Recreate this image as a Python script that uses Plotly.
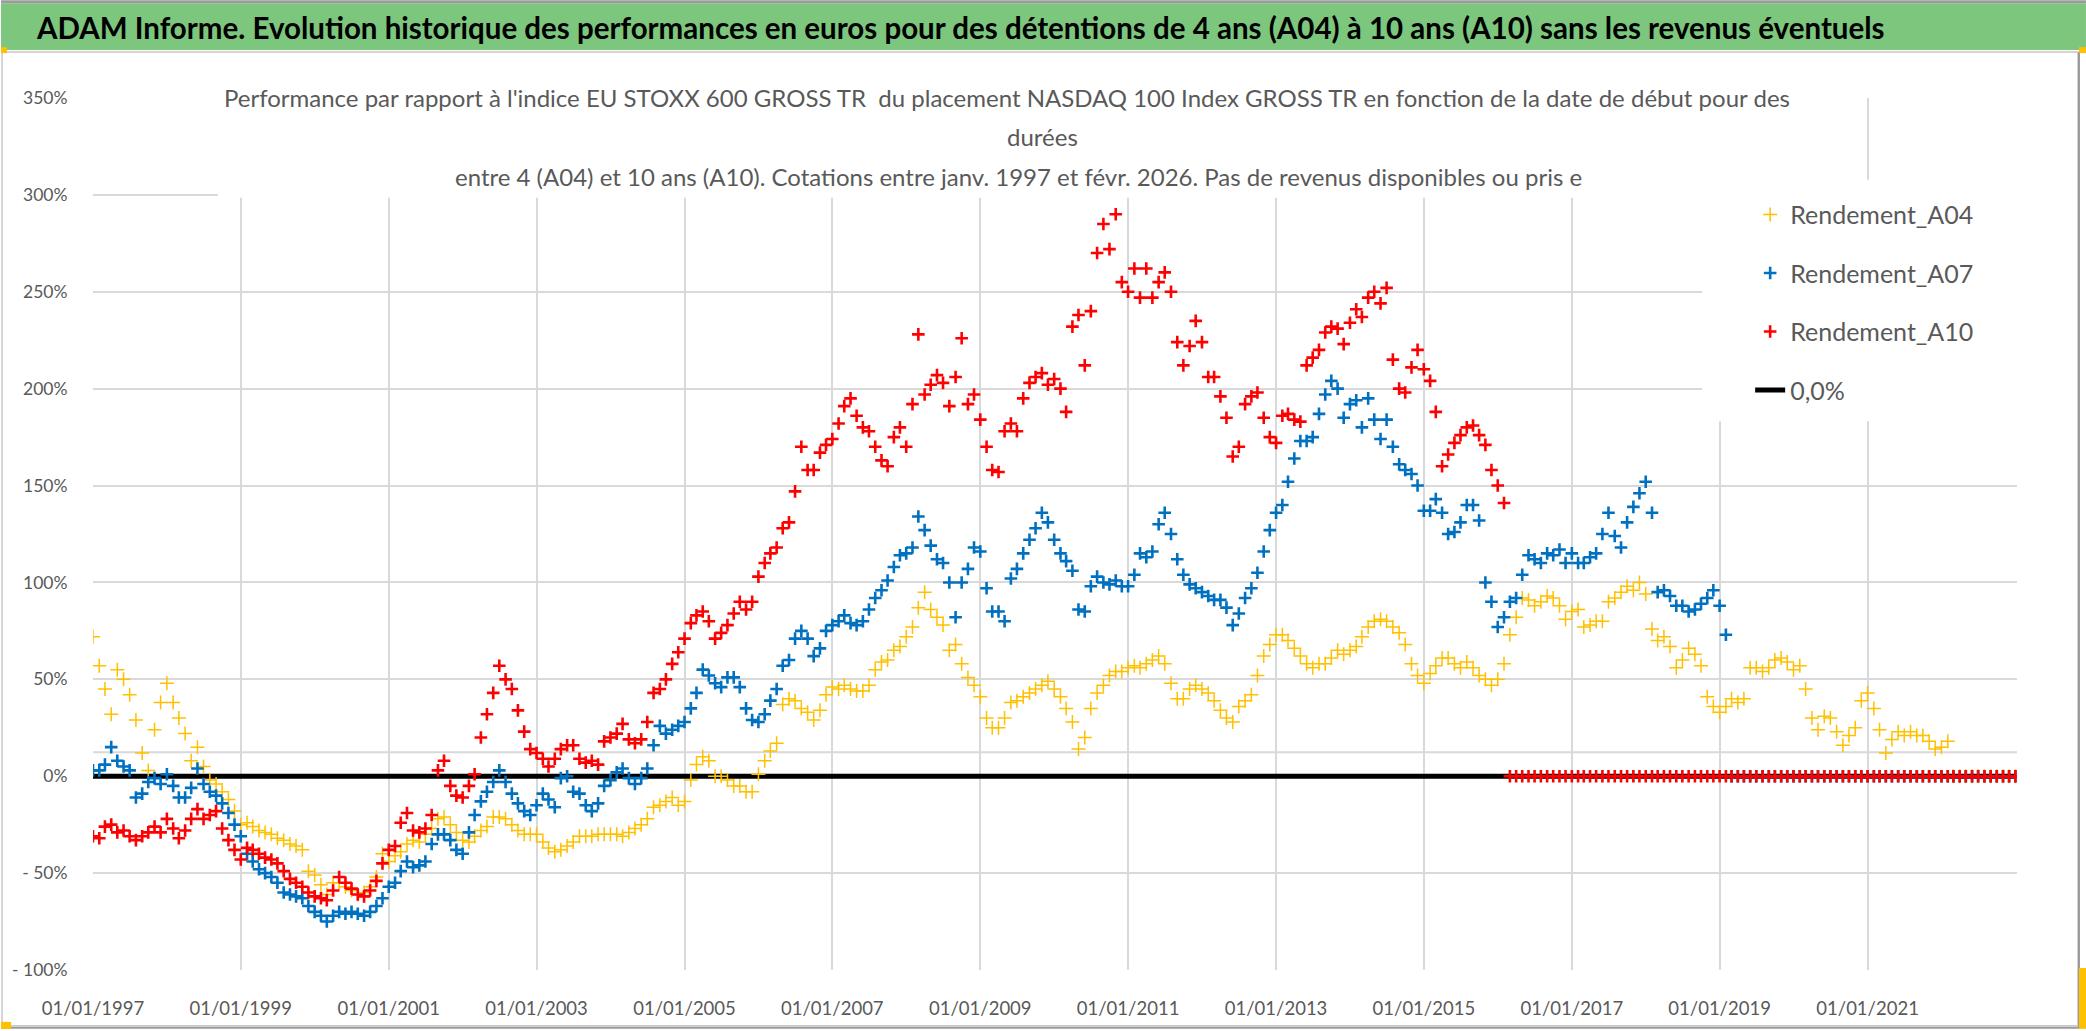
import pandas as pd
import plotly.graph_objects as go

# ---------------- data (monthly readings of the start-date series) ----------------
DATES = pd.date_range("1997-01-01", "2023-01-01", freq="MS")

A04 = [
    72, 57, 45, 32, 55, 50, 42, 29, 12, 3, 24, 38,            # 1997
    48, 38, 30, 22, 8, 15, 5, -2, -4, -8, -12, -18,           # 1998
    -25, -24, -26, -28, -29, -30, -32, -33, -35, -36, -38, -49,  # 1999
    -51, -56, -61, -55, -55, -57, -59, -61, -60, -57, -52, -40,  # 2000
    -44, -41, -39, -35, -33, -34, -30, -27, -22, -21, -25, -29,  # 2001
    -33, -34, -31, -28, -26, -21, -21, -22, -25, -28, -30, -30,  # 2002
    -30, -34, -37, -39, -38, -36, -34, -31, -31, -31, -30, -30,  # 2003
    -30, -30, -31, -29, -27, -25, -22, -16, -15, -13, -11, -15,  # 2004
    -13, -2, 6, 10, 8, 0, 0, -2, -5, -5, -8, -8,              # 2005
    1, 8, 13, 17, 37, 40, 39, 35, 33, 29, 34, 42,             # 2006
    46, 45, 47, 45, 44, 44, 47, 55, 59, 60, 65, 67,           # 2007
    72, 77, 87, 95, 86, 82, 78, 65, 68, 58, 51, 47,           # 2008
    41, 30, 25, 25, 30, 38, 39, 41, 43, 45, 47, 49,           # 2009
    45, 41, 35, 28, 14, 20, 35, 43, 47, 52, 54, 54,           # 2010
    56, 57, 56, 58, 60, 62, 58, 48, 40, 40, 45, 47,           # 2011
    45, 43, 39, 34, 30, 28, 36, 39, 42, 52, 62, 68,           # 2012
    73, 73, 70, 66, 62, 58, 56, 58, 58, 61, 65, 63,           # 2013
    65, 67, 72, 77, 80, 81, 80, 77, 74, 68, 58, 52,           # 2014
    48, 53, 57, 61, 61, 58, 56, 59, 56, 52, 50, 47,           # 2015
    50, 58, 73, 82, 92, 91, 88, 90, 93, 92, 88, 81,           # 2016
    85, 86, 77, 78, 80, 80, 90, 92, 95, 98, 96, 100,          # 2017
    94, 76, 70, 72, 67, 56, 60, 66, 63, 57, 41, 36,           # 2018
    33, 36, 40, 38, 40, 56, 56, 54, 56, 60, 61, 59,           # 2019
    55, 57, 45, 30, 24, 31, 30, 23, 16, 21, 25, 39,           # 2020
    43, 35, 24, 12, 19, 23, 21, 23, 21, 21, 18, 14,           # 2021
    15, 18,                                                   # 2022
]

A07 = [
    3, 3, 6, 15, 8, 5, 3, -11, -9, -3, -1, -4,                # 1997
    1, -5, -11, -11, -6, 4, -4, -8, -10, -14, -19, -25,       # 1998
    -31, -40, -44, -48, -50, -52, -55, -60, -61, -62, -63, -67,  # 1999
    -70, -72, -75, -72, -70, -71, -70, -71, -72, -70, -67, -63,  # 2000
    -57, -55, -49, -44, -47, -46, -44, -35, -30, -30, -33, -38,  # 2001
    -40, -29, -20, -13, -8, -3, 3, -3, -9, -14, -18, -20,     # 2002
    -15, -9, -12, -16, -1, 0, -8, -9, -15, -18, -14, -5,      # 2003
    -2, 2, 4, -1, -4, -1, 4, 16, 26, 22, 24, 26,              # 2004
    28, 35, 43, 55, 52, 48, 46, 51, 51, 46, 35, 29,           # 2005
    28, 32, 39, 45, 57, 60, 71, 75, 71, 62, 66, 75,           # 2006
    78, 80, 83, 79, 78, 80, 86, 92, 96, 101, 108, 114,        # 2007
    115, 118, 134, 127, 119, 112, 110, 100, 82, 100, 107, 118,  # 2008
    116, 97, 85, 85, 80, 102, 107, 115, 122, 128, 136, 131,   # 2009
    122, 115, 111, 106, 86, 85, 98, 103, 100, 99, 101, 98,    # 2010
    98, 104, 115, 113, 116, 130, 136, 125, 112, 104, 99, 97,  # 2011
    95, 93, 91, 91, 87, 78, 84, 92, 97, 105, 116, 127,        # 2012
    136, 140, 152, 164, 173, 173, 175, 187, 197, 204, 200, 185,  # 2013
    192, 194, 180, 195, 184, 174, 184, 170, 161, 158, 156, 150,  # 2014
    137, 137, 143, 136, 125, 126, 131, 140, 140, 132, 100, 90,   # 2015
    77, 82, 90, 92, 104, 114, 112, 110, 115, 114, 117, 110,   # 2016
    115, 110, 110, 113, 115, 125, 136, 124, 118, 131, 139, 146,  # 2017
    152, 136, 95, 96, 93, 88, 88, 85, 86, 89, 92, 96,         # 2018
    88, 73,                                                   # 2019
]

A10 = [
    -31, -32, -26, -25, -29, -28, -31, -33, -31, -29, -26, -29,  # 1997
    -22, -27, -32, -28, -22, -17, -22, -20, -18, -27, -33, -38,  # 1998
    -43, -37, -38, -40, -42, -43, -45, -49, -53, -55, -57, -60,  # 1999
    -62, -63, -64, -59, -52, -55, -58, -61, -62, -59, -54, -45,  # 2000
    -38, -36, -24, -19, -28, -29, -27, -20, 3, 8, -5, -10,    # 2001
    -11, -5, 1, 20, 32, 43, 57, 50, 45, 34, 23, 14,           # 2002
    12, 9, 5, 9, 14, 16, 16, 9, 7, 8, 6, 18,                  # 2003
    20, 22, 27, 19, 17, 19, 28, 43, 45, 50, 58, 64,           # 2004
    71, 79, 83, 85, 80, 71, 74, 78, 84, 90, 86, 90,           # 2005
    103, 110, 115, 118, 128, 131, 147, 170, 158, 158, 167, 171,  # 2006
    174, 182, 191, 195, 186, 180, 178, 170, 163, 160, 175, 180,  # 2007
    170, 192, 228, 197, 202, 207, 203, 191, 206, 226, 192, 197,  # 2008
    184, 170, 158, 157, 178, 182, 178, 195, 203, 206, 208, 202,  # 2009
    205, 200, 188, 232, 238, 212, 240, 270, 285, 272, 290, 255,  # 2010
    250, 262, 247, 262, 247, 255, 260, 250, 224, 212, 222, 235,  # 2011
    224, 206, 206, 196, 185, 165, 170, 192, 196, 198, 185, 175,  # 2012
    172, 186, 187, 184, 183, 212, 216, 220, 229, 232, 231, 223,  # 2013
    234, 241, 237, 247, 250, 244, 252, 215, 200, 198, 211, 220,  # 2014
    210, 204, 188, 160, 166, 172, 176, 180, 181, 176, 171, 158,  # 2015
    150, 141,                                                 # 2016
]

ZERO_LINE = [0.0, 0.0]

Y_TICKS = [-100, -50, 0, 50, 100, 150, 200, 250, 300, 350]
Y_TICK_TEXT = ["- 100%", "- 50%", "0%", "50%", "100%", "150%", "200%", "250%", "300%", "350%"]
X_TICKS = pd.date_range("1997-01-01", "2021-01-01", freq="24MS")
X_TICK_TEXT = [d.strftime("%d/%m/%Y") for d in X_TICKS]

TITLE = ("ADAM Informe. Evolution historique des performances en euros pour des détentions "
         "de 4 ans (A04) à 10 ans (A10) sans les revenus éventuels")
SUB1 = ("Performance par rapport à l'indice EU STOXX 600 GROSS TR  du placement NASDAQ 100 "
        "Index GROSS TR en fonction de la date de début pour des")
SUB2 = "durées"
SUB3 = ("entre 4 (A04) et 10 ans (A10). Cotations entre janv. 1997 et févr. 2026. "
        "Pas de revenus disponibles ou pris e")


# Excel plotted the empty cells (after the last possible start date) as 0
def with_zero_tail(values):
    return values + [0] * (len(DATES) - len(values))


# ---------------- geometry helpers (pixel -> paper) ----------------
W, H = 2086, 1031
L, R, T, B = 92, 2017, 98, 972


def px(x):
    return (x - L) / (R - L)


def py(y):
    return (B - y) / (B - T)


FONT = "Lato"
GREY_TXT = "#595959"
GRID = "#D9D9D9"

fig = go.Figure()

series = [
    ("Rendement_A04", A04, "#FFC000", 10, 1.5),
    ("Rendement_A07", A07, "#0070C0", 9, 2.6),
    ("Rendement_A10", A10, "#FF0000", 9, 2.6),
]
for name, vals, col, size, lw in series:
    fig.add_trace(go.Scatter(
        x=DATES, y=with_zero_tail(vals), mode="markers", name=name,
        legendgroup=name,
        marker=dict(symbol="cross-thin", size=size, color=col,
                    line=dict(color=col, width=lw)),
        zorder=1,
    ))

fig.add_trace(go.Scatter(
    x=[DATES[0], DATES[-1]], y=ZERO_LINE, mode="lines", name="0,0%",
    legendgroup="zero", line=dict(color="black", width=5), zorder=0,
))

shapes = [
    # odd grey line just above zero
    dict(type="line", xref="paper", yref="y", x0=0, x1=1, y0=12.4, y1=12.4,
         line=dict(color=GRID, width=2), layer="between"),
    # white box behind the chart title (hides gridlines)
    dict(type="rect", xref="paper", yref="paper", x0=px(217), x1=px(1805),
         y0=py(198), y1=py(62), fillcolor="white", line=dict(width=0), layer="above"),
    # white legend box
    dict(type="rect", xref="paper", yref="paper", x0=px(1702), x1=px(2077),
         y0=py(422), y1=py(180), fillcolor="white", line=dict(width=0), layer="above"),
    # green banner
    dict(type="rect", xref="paper", yref="paper", x0=px(0), x1=px(W),
         y0=py(50), y1=py(3), fillcolor="#7DC67E", line=dict(width=0), layer="above"),
    dict(type="rect", xref="paper", yref="paper", x0=px(0), x1=px(W),
         y0=py(3), y1=py(0), fillcolor="#9A9A9A", line=dict(width=0), layer="above"),
    # chart-area frame
    dict(type="rect", xref="paper", yref="paper", x0=px(1), x1=px(2078),
         y0=py(1028), y1=py(52), fillcolor="rgba(0,0,0,0)",
         line=dict(color="#C8C8C8", width=1.5), layer="above"),
    dict(type="line", xref="paper", yref="paper", x0=px(2079), x1=px(2079),
         y0=py(52), y1=py(1030), line=dict(color="#9A9A9A", width=2), layer="above"),
    dict(type="line", xref="paper", yref="paper", x0=px(0), x1=px(2080),
         y0=py(1030), y1=py(1030), line=dict(color="#9A9A9A", width=2), layer="above"),
    # yellow selection handles
    dict(type="rect", xref="paper", yref="paper", x0=px(0), x1=px(6),
         y0=py(53), y1=py(47), fillcolor="#FFC000", line=dict(width=0), layer="above"),
    dict(type="rect", xref="paper", yref="paper", x0=px(2079), x1=px(2086),
         y0=py(53), y1=py(47), fillcolor="#FFC000", line=dict(width=0), layer="above"),
    dict(type="rect", xref="paper", yref="paper", x0=px(0), x1=px(10),
         y0=py(1031), y1=py(1024), fillcolor="#FFC000", line=dict(width=0), layer="above"),
    dict(type="rect", xref="paper", yref="paper", x0=px(2079), x1=px(2086),
         y0=py(1031), y1=py(970), fillcolor="#FFC000", line=dict(width=0), layer="above"),
]

annotations = [
    dict(text="<b>" + TITLE + "</b>", xref="paper", yref="paper", x=px(33), y=py(27),
         xanchor="left", yanchor="middle", showarrow=False,
         font=dict(family=FONT, size=29.5, color="black")),
    dict(text=SUB1, xref="paper", yref="paper", x=px(1006), y=py(97),
         xanchor="center", yanchor="middle", showarrow=False,
         font=dict(family=FONT, size=24, color=GREY_TXT)),
    dict(text=SUB2, xref="paper", yref="paper", x=px(1042), y=py(137),
         xanchor="center", yanchor="middle", showarrow=False,
         font=dict(family=FONT, size=24, color=GREY_TXT)),
    dict(text=SUB3, xref="paper", yref="paper", x=px(1018), y=py(177),
         xanchor="center", yanchor="middle", showarrow=False,
         font=dict(family=FONT, size=24, color=GREY_TXT)),
]

fig.update_layout(
    width=W, height=H, autosize=False,
    margin=dict(l=L, r=W - R, t=T, b=H - B, pad=0),
    paper_bgcolor="white", plot_bgcolor="white",
    shapes=shapes, annotations=annotations,
    legend=dict(x=px(1750), y=py(192), xanchor="left", yanchor="top",
                bgcolor="rgba(0,0,0,0)", font=dict(family=FONT, size=25, color=GREY_TXT),
                tracegroupgap=23, itemsizing="trace", traceorder="grouped"),
    font=dict(family=FONT, color=GREY_TXT),
)

fig.update_xaxes(
    type="date", range=["1997-01-01", "2023-01-09"],
    tickvals=list(X_TICKS), ticktext=X_TICK_TEXT,
    showgrid=True, gridcolor=GRID, gridwidth=1.5,
    showline=True, linecolor=GRID, linewidth=2, zeroline=False,
    ticks="", ticklabelstandoff=21,
    tickfont=dict(family=FONT, size=18.5, color=GREY_TXT),
)
fig.update_yaxes(
    range=[-100, 350], tickvals=Y_TICKS, ticktext=Y_TICK_TEXT,
    showgrid=True, gridcolor=GRID, gridwidth=1.5,
    showline=True, linecolor=GRID, linewidth=2, zeroline=False,
    ticks="", ticklabelstandoff=20,
    tickfont=dict(family=FONT, size=17.5, color=GREY_TXT),
)

fig.write_html(
    "out.html",
    config={"displayModeBar": False},
    post_script="document.body.style.margin='0px';document.body.style.overflow='hidden';",
)
